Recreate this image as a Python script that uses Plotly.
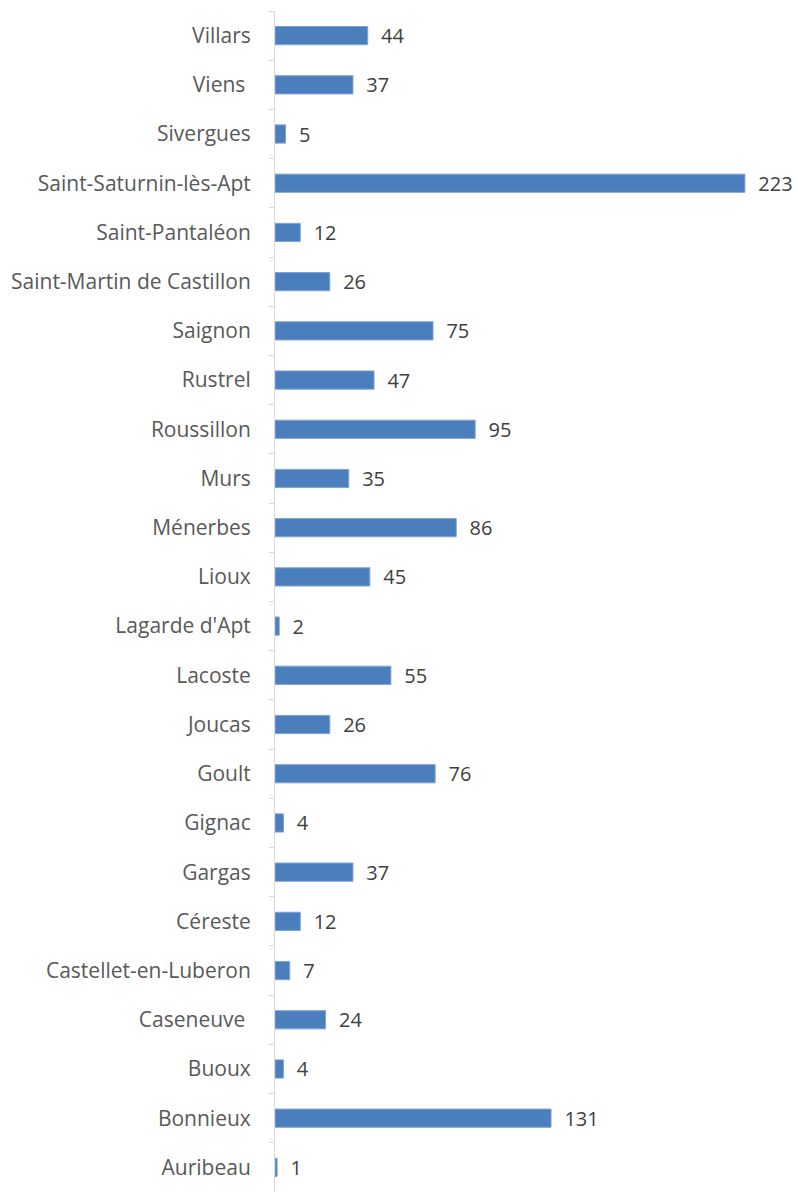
import plotly.graph_objects as go

communes = ["Villars", "Viens\u00a0", "Sivergues", "Saint-Saturnin-lès-Apt", "Saint-Pantaléon",
            "Saint-Martin de Castillon", "Saignon", "Rustrel", "Roussillon", "Murs", "Ménerbes",
            "Lioux", "Lagarde d'Apt", "Lacoste", "Joucas", "Goult", "Gignac", "Gargas", "Céreste",
            "Castellet-en-Luberon", "Caseneuve\u00a0", "Buoux", "Bonnieux", "Auribeau"]
valeurs = [44, 37, 5, 223, 12, 26, 75, 47, 95, 35, 86, 45, 2, 55, 26, 76, 4, 37, 12, 7, 24, 4, 131, 1]

fig = go.Figure(go.Bar(
    x=valeurs, y=communes, orientation="h",
    marker=dict(color="#4A7EBD", line=dict(color="#7FA3D3", width=1)),
    width=0.37,
    text=valeurs, texttemplate="\u00a0\u00a0%{x}", textposition="outside",
    constraintext="none",
    textfont=dict(family="Open Sans", size=20, color="#404040"),
    cliponaxis=False,
))

fig.update_layout(
    width=798, height=1192,
    margin=dict(l=275, r=0, t=11, b=0, autoexpand=False),
    paper_bgcolor="white", plot_bgcolor="white",
    showlegend=False,
    font=dict(family="Open Sans", size=21, color="#595959"),
)
fig.update_xaxes(range=[0, 248.2], visible=False, showgrid=False, zeroline=False)
fig.update_yaxes(autorange="reversed", showline=True, linecolor="#D9D9D9", linewidth=1,
                 ticks="outside", tickson="boundaries", ticklen=5, tickcolor="#D9D9D9",
                 ticklabelstandoff=19, showgrid=False, automargin=False,
                 tickfont=dict(family="Open Sans", size=21, color="#595959"))

fig.write_html(
    "out.html",
    config={"displayModeBar": False},
    post_script="document.body.style.margin='0';document.documentElement.style.overflow='hidden';",
)
